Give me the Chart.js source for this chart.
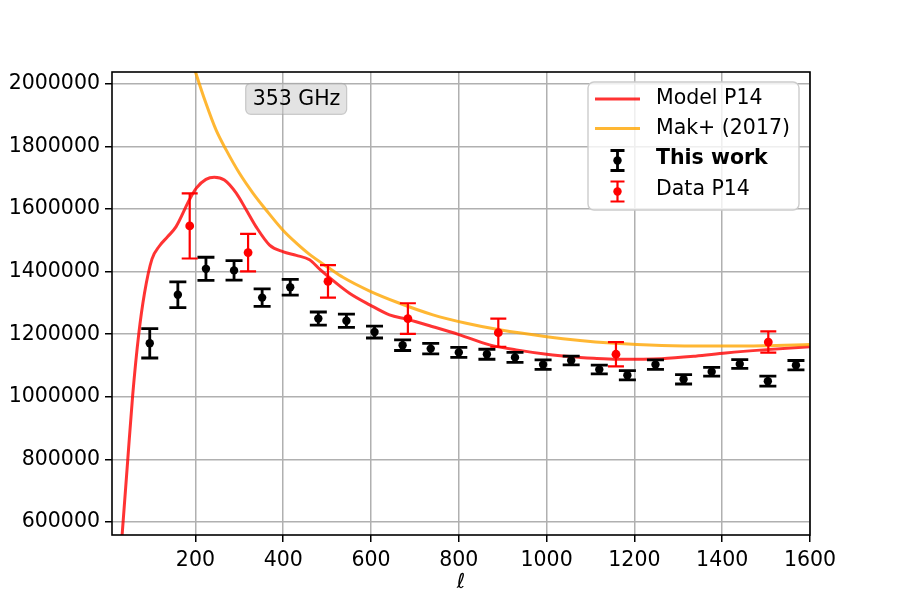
<!DOCTYPE html>
<html>
<head>
<meta charset="utf-8">
<script src="https://cdn.jsdelivr.net/npm/chart.js@4.4.0/dist/chart.umd.min.js"></script>
<style>
  html, body { margin: 0; padding: 0; background: #fff; }
</style>
</head>
<body>
<canvas id="c" width="900" height="600"></canvas>
<script>
// axis ticks
const xTicks = [200, 400, 600, 800, 1000, 1200, 1400, 1600];
const yTicks = [600000, 800000, 1000000, 1200000, 1400000, 1600000, 1800000, 2000000];

// Model P14 curve
const modelEll = [31, 46, 57, 71, 84, 101, 118, 137, 156, 186, 202, 224, 243, 266, 293, 316, 338, 369, 399,
  430, 460, 483, 502, 551, 597, 642, 682, 741, 802, 870, 931, 1000, 1076, 1107, 1161, 1262, 1339, 1408, 1494, 1600];
const modelCl = [520000, 801000, 1003000, 1201000, 1331000, 1440000, 1482000, 1512000, 1544000, 1629000, 1667000,
  1695000, 1702000, 1693000, 1651000, 1597000, 1544000, 1485000, 1464000, 1452000, 1438000, 1408000, 1385000,
  1331000, 1294000, 1262000, 1248000, 1224000, 1198000, 1166000, 1150000, 1136000, 1126000, 1123000, 1120000,
  1122000, 1130000, 1140000, 1150000, 1160000];

// Mak+ (2017) curve
const makEll = [190, 200, 224, 247, 270, 300, 331, 361, 399, 430, 460, 506, 536, 597, 665, 741, 817, 893,
  1000, 1076, 1146, 1262, 1378, 1494, 1600];
const makCl = [2085000, 2039000, 1938000, 1853000, 1789000, 1715000, 1651000, 1597000, 1533000, 1491000,
  1455000, 1410000, 1382000, 1338000, 1299000, 1262000, 1235000, 1214000, 1192000, 1180000, 1172000,
  1164000, 1162000, 1163000, 1167000];

// This work
const workEll = [96, 160, 224, 288, 352, 416, 480, 544, 608, 672, 736, 800, 864, 928, 992, 1056, 1120, 1184,
  1248, 1312, 1376, 1440, 1504, 1568];
const workCl = [1171000, 1326000, 1409000, 1404000, 1317000, 1350000, 1250000, 1243000, 1207000, 1165000,
  1154000, 1142000, 1136000, 1126000, 1103000, 1116000, 1087000, 1069000, 1103000, 1056000, 1080000,
  1105000, 1050000, 1101000];
const workErr = [47000, 41000, 37000, 31000, 28000, 25000, 21000, 21000, 19000, 17000, 17000, 16000, 16000,
  16000, 15000, 14000, 14000, 15000, 15000, 15000, 14000, 14000, 16000, 15000];

// Data P14
const p14Ell = [187, 320, 502, 684, 890, 1158, 1505];
const p14Cl = [1546000, 1461000, 1369000, 1250000, 1205000, 1136000, 1175000];
const p14Err = [104000, 60000, 52000, 49000, 45000, 39000, 34000];

const pts = (xs, ys) => xs.map((x, i) => ({ x: x, y: ys[i] }));

Chart.defaults.font.family = 'DejaVu Sans';
Chart.defaults.font.size = 20.5;
Chart.defaults.color = '#000';

// error bars, drawn just before the markers of their dataset
const errorBars = {
  id: 'errorBars',
  beforeDatasetDraw(chart, args) {
    const ds = chart.data.datasets[args.index];
    if (!ds.errors) return;
    const { ctx, chartArea, scales } = chart;
    ctx.save();
    ctx.beginPath();
    ctx.rect(chartArea.left, chartArea.top, chartArea.width, chartArea.height);
    ctx.clip();
    ctx.strokeStyle = ds.backgroundColor;
    ctx.lineWidth = ds.barWidth;
    ds.data.forEach((p, i) => {
      const x = scales.x.getPixelForValue(p.x);
      const y1 = scales.y.getPixelForValue(p.y - ds.errors[i]);
      const y2 = scales.y.getPixelForValue(p.y + ds.errors[i]);
      ctx.beginPath();
      ctx.moveTo(x, y1); ctx.lineTo(x, y2);
      ctx.moveTo(x - ds.capHalf, y1); ctx.lineTo(x + ds.capHalf, y1);
      ctx.moveTo(x - ds.capHalf, y2); ctx.lineTo(x + ds.capHalf, y2);
      ctx.stroke();
    });
    ctx.restore();
  }
};

// frame, text box and legend
const decorations = {
  id: 'decorations',
  afterDraw(chart) {
    const { ctx, chartArea: a } = chart;
    ctx.save();

    // "353 GHz" box
    const bx = a.left + 0.1915 * a.width, by = a.top + 0.0244 * a.height;
    ctx.beginPath();
    ctx.roundRect(bx, by, 101, 31, 5);
    ctx.fillStyle = 'rgba(200,200,200,0.5)';
    ctx.fill();
    ctx.strokeStyle = 'rgba(160,160,160,0.5)';
    ctx.lineWidth = 1.2;
    ctx.stroke();
    ctx.fillStyle = '#000';
    ctx.font = '20.5px "DejaVu Sans"';
    ctx.textBaseline = 'middle';
    ctx.textAlign = 'left';
    ctx.fillText('353 GHz', bx + 7, by + 16);

    // axes frame
    ctx.strokeStyle = '#000';
    ctx.lineWidth = 1.6;
    ctx.strokeRect(a.left, a.top, a.width, a.height);

    // legend
    const lx = 588, ly = 82;
    ctx.beginPath();
    ctx.roundRect(lx, ly, 211, 128, 6);
    ctx.fillStyle = 'rgba(255,255,255,0.8)';
    ctx.fill();
    ctx.strokeStyle = '#cccccc';
    ctx.lineWidth = 1.4;
    ctx.stroke();

    const rows = [
      { y: 99, kind: 'line', color: 'rgba(255,0,0,0.8)', text: 'Model P14', bold: false },
      { y: 128.5, kind: 'line', color: 'rgba(255,165,0,0.8)', text: 'Mak+ (2017)', bold: false },
      { y: 159, kind: 'err', color: '#000', text: 'This work', bold: true },
      { y: 190, kind: 'err', color: 'red', text: 'Data P14', bold: false }
    ];
    rows.forEach(r => {
      ctx.strokeStyle = r.color;
      ctx.fillStyle = r.color;
      if (r.kind === 'line') {
        ctx.lineWidth = 3;
        ctx.beginPath();
        ctx.moveTo(595, r.y); ctx.lineTo(640, r.y);
        ctx.stroke();
      } else {
        const cx = 617.5, cy = r.y + 1.5;
        ctx.lineWidth = r.color === 'red' ? 2.2 : 2.8;
        ctx.beginPath();
        ctx.moveTo(cx, cy - 10); ctx.lineTo(cx, cy + 10);
        ctx.moveTo(cx - 7, cy - 10); ctx.lineTo(cx + 7, cy - 10);
        ctx.moveTo(cx - 7, cy + 10); ctx.lineTo(cx + 7, cy + 10);
        ctx.stroke();
        ctx.beginPath();
        ctx.arc(cx, cy, 4.2, 0, Math.PI * 2);
        ctx.fill();
      }
      ctx.fillStyle = '#000';
      ctx.font = (r.bold ? 'bold ' : '') + '20.5px "DejaVu Sans"';
      ctx.fillText(r.text, 656, r.y);
    });
    ctx.restore();
  }
};

new Chart(document.getElementById('c'), {
  type: 'scatter',
  data: {
    datasets: [
      {
        label: 'Model P14',
        type: 'line',
        data: pts(modelEll, modelCl),
        borderColor: 'rgba(255,0,0,0.8)',
        borderWidth: 3,
        pointRadius: 0,
        cubicInterpolationMode: 'monotone',
        fill: false,
        order: 4
      },
      {
        label: 'Mak+ (2017)',
        type: 'line',
        data: pts(makEll, makCl),
        borderColor: 'rgba(255,165,0,0.8)',
        borderWidth: 3,
        pointRadius: 0,
        cubicInterpolationMode: 'monotone',
        fill: false,
        order: 3
      },
      {
        label: 'This work',
        data: pts(workEll, workCl),
        errors: workErr,
        backgroundColor: '#000',
        borderWidth: 0,
        pointRadius: 4.2,
        barWidth: 2.8,
        capHalf: 8.5,
        order: 2
      },
      {
        label: 'Data P14',
        data: pts(p14Ell, p14Cl),
        errors: p14Err,
        backgroundColor: 'red',
        borderWidth: 0,
        pointRadius: 4.4,
        barWidth: 2.2,
        capHalf: 8,
        order: 1
      }
    ]
  },
  options: {
    responsive: false,
    animation: false,
    devicePixelRatio: 1,
    layout: { padding: { left: 0, right: 90, top: 72, bottom: 0 } },
    plugins: { legend: { display: false }, tooltip: { enabled: false } },
    scales: {
      x: {
        type: 'linear',
        min: 10,
        max: 1600,
        afterBuildTicks: s => { s.ticks = xTicks.map(v => ({ value: v })); },
        afterFit: s => { s.height = 65; },
        ticks: { padding: 6, maxRotation: 0, callback: v => String(v) },
        grid: { color: '#b0b0b0', lineWidth: 1.5, tickColor: '#000', tickLength: 7, tickWidth: 1.5 },
        border: { display: false },
        title: { display: true, text: 'ℓ', font: { style: 'italic', size: 20.5 }, padding: { top: 0, bottom: 5 } }
      },
      y: {
        min: 558400,
        max: 2038000,
        afterBuildTicks: s => { s.ticks = yTicks.map(v => ({ value: v })); },
        afterFit: s => { s.width = 112; },
        ticks: { padding: 5, callback: v => String(v) },
        grid: { color: '#b0b0b0', lineWidth: 1.5, tickColor: '#000', tickLength: 7, tickWidth: 1.5 },
        border: { display: false }
      }
    }
  },
  plugins: [errorBars, decorations]
});
</script>
</body>
</html>
